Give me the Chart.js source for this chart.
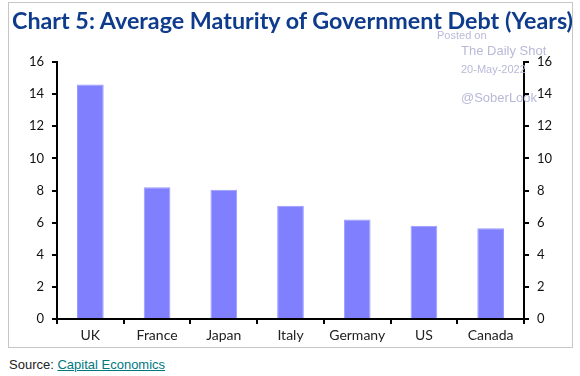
<!DOCTYPE html>
<html>
<head>
<meta charset="utf-8">
<script src="https://cdn.jsdelivr.net/npm/chart.js@4"></script>
<style>
  html, body { margin: 0; padding: 0; background: #fff; width: 580px; height: 376px; overflow: hidden; }
  #frame { position: absolute; left: 8px; top: 2px; width: 563px; height: 344px; border: 1px solid #c6c6c6; background: #fff; }
  #wrap { position: absolute; left: 0; top: 0; width: 563px; height: 344px; }
  #title { position: absolute; left: 3px; top: 3px; white-space: nowrap; font-family: Lato, "Open Sans", sans-serif; font-weight: bold; font-size: 23px; color: #0f3b8c; transform-origin: 0 0; }
  .wm { position: absolute; font-family: "Liberation Sans", Arial, sans-serif; color: #b9b9d9; white-space: nowrap; }
  #source { position: absolute; left: 9px; top: 357px; font-family: "Liberation Sans", Arial, sans-serif; font-size: 13px; color: #222; }
  #source a { color: #00777f; text-decoration: underline; }
</style>
</head>
<body>
<div id="frame">
  <div id="wrap"><canvas id="c"></canvas></div>
  <div id="title">Chart 5: Average Maturity of Government Debt (Years)</div>
  <div class="wm" style="left:428px; top:26px; font-size:11px;">Posted on</div>
  <div class="wm" style="left:452px; top:40px; font-size:13px;">The Daily Shot</div>
  <div class="wm" style="left:452px; top:60px; font-size:11px;">20-May-2022</div>
  <div class="wm" style="left:452px; top:87px; font-size:13px;">@SoberLook</div>
</div>
<div id="source">Source: <a href="#">Capital Economics</a></div>
<script>
const categories = ["UK", "France", "Japan", "Italy", "Germany", "US", "Canada"];
const maturityYears = [14.6, 8.2, 8.05, 7.05, 6.2, 5.8, 5.65];
const yTicks = [0, 2, 4, 6, 8, 10, 12, 14, 16];

// fit title width
(function(){
  const t = document.getElementById('title');
  const w = t.getBoundingClientRect().width;
  const target = 561;
  t.style.transform = 'scaleX(' + (target / w) + ')';
})();

const tickFont = { family: "Lato, 'Open Sans', sans-serif", size: 13 };
const yScaleCommon = {
  min: 0, max: 16,
  afterBuildTicks: (s) => { s.ticks = yTicks.map(v => ({ value: v })); },
  border: { display: true, color: '#000', width: 2 },
  grid: { display: true, drawOnChartArea: false, drawTicks: true, tickLength: 5, color: '#000', lineWidth: 2 },
  ticks: { color: '#111', font: tickFont, padding: 8 }
};

new Chart(document.getElementById('c'), {
  type: 'bar',
  data: {
    labels: categories,
    datasets: [{
      data: maturityYears,
      backgroundColor: '#8080ff',
      borderColor: '#9a9aff',
      borderWidth: 1,
      barPercentage: 0.4,
      categoryPercentage: 1.0,
      yAxisID: 'y'
    }]
  },
  options: {
    responsive: true,
    maintainAspectRatio: false,
    animation: false,
    layout: { padding: { top: 59, left: 0, right: 0, bottom: 0 } },
    plugins: { legend: { display: false }, tooltip: { enabled: false }, title: { display: false } },
    scales: {
      x: {
        offset: true,
        border: { display: true, color: '#000', width: 2 },
        grid: { display: true, offset: true, drawOnChartArea: false, drawTicks: true, tickLength: 5, color: '#000', lineWidth: 2 },
        ticks: { color: '#222', font: { family: "Lato, 'Open Sans', sans-serif", size: 14 }, padding: 3, maxRotation: 0 },
        afterFit: (s) => { s.height = 28; }
      },
      y: Object.assign({}, yScaleCommon, {
        position: 'left',
        afterFit: (s) => { s.width = 48; }
      }),
      y2: Object.assign({}, yScaleCommon, {
        position: 'right',
        afterFit: (s) => { s.width = 48; }
      })
    }
  }
});
</script>
</body>
</html>
